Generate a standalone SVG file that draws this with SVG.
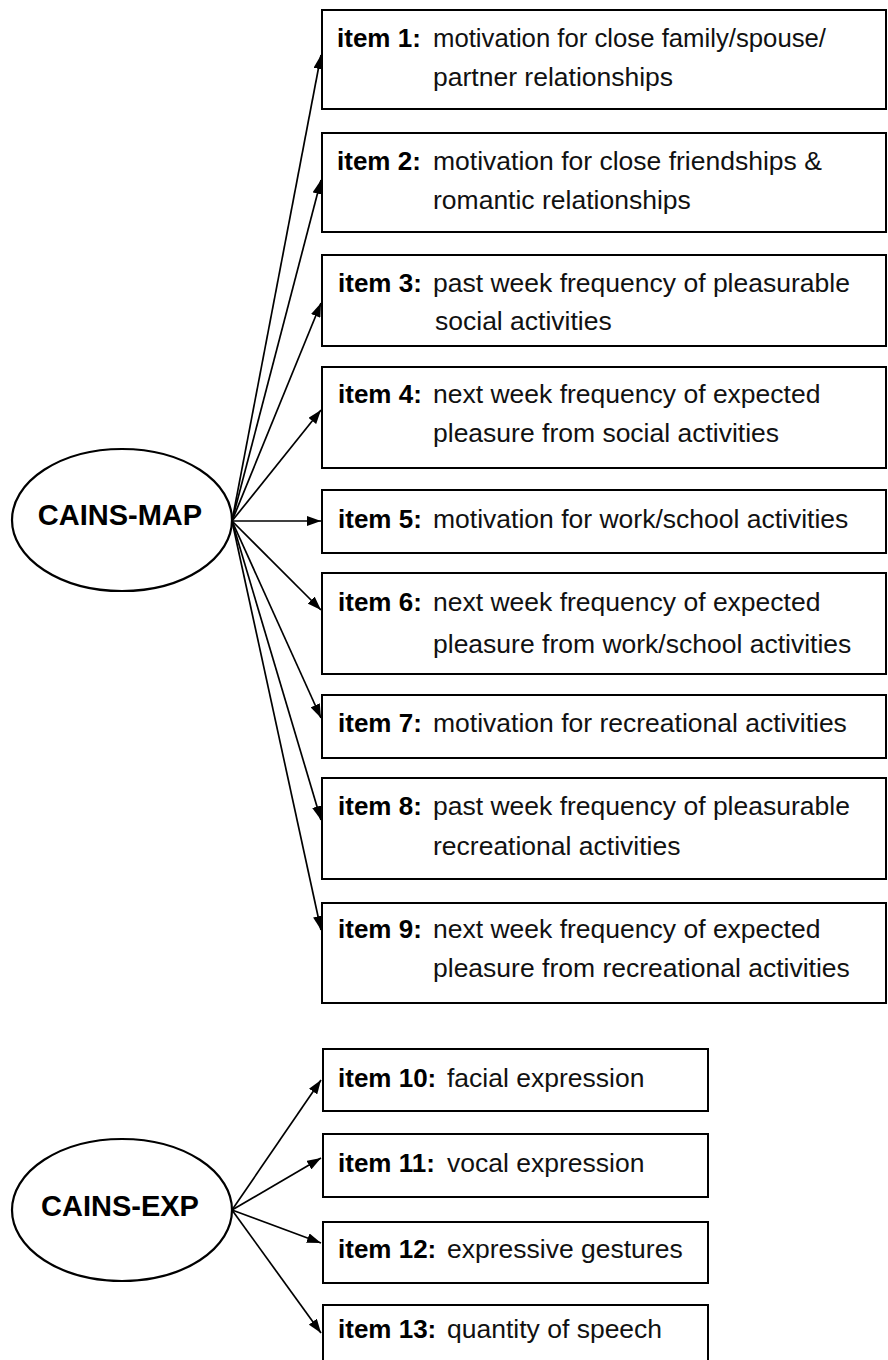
<svg xmlns="http://www.w3.org/2000/svg" width="888" height="1360" viewBox="0 0 888 1360">
<style>
.box{fill:#fff;stroke:#000;stroke-width:2}
.ell{fill:#fff;stroke:#000;stroke-width:2.2}
.lab{font-family:"Liberation Sans",Arial,sans-serif;font-weight:bold;font-size:26px;fill:#000}
.txt{font-family:"Liberation Sans",Arial,sans-serif;font-size:26.5px;fill:#111}
.big{font-family:"Liberation Sans",Arial,sans-serif;font-weight:bold;font-size:29px;fill:#000;text-anchor:middle}
.con line{stroke:#000;stroke-width:1.7;marker-end:url(#ah)}
</style>
<defs>
<marker id="ah" viewBox="0 0 14 10" refX="14" refY="5" markerWidth="14" markerHeight="10" markerUnits="userSpaceOnUse" orient="auto">
<path d="M0,0 L14,5 L0,10 z" fill="#000"/>
</marker>
</defs>
<rect width="888" height="1360" fill="#fff"/>
<g id="connectors" class="con">
<line x1="232" y1="521" x2="321" y2="55"/>
<line x1="232" y1="521" x2="321" y2="180"/>
<line x1="232" y1="521" x2="321" y2="303"/>
<line x1="232" y1="521" x2="321" y2="410"/>
<line x1="232" y1="521" x2="321" y2="521"/>
<line x1="232" y1="521" x2="321" y2="610"/>
<line x1="232" y1="521" x2="321" y2="718"/>
<line x1="232" y1="521" x2="321" y2="820"/>
<line x1="232" y1="521" x2="321" y2="930"/>
<line x1="232" y1="1210" x2="321" y2="1080"/>
<line x1="232" y1="1210" x2="321" y2="1158"/>
<line x1="232" y1="1210" x2="321" y2="1243"/>
<line x1="232" y1="1210" x2="321" y2="1333"/>
</g>
<g id="cains-map">
<ellipse class="ell" cx="122" cy="520" rx="110" ry="71"/>
<text class="big" x="120" y="525">CAINS-MAP</text>
</g>
<g id="cains-exp">
<ellipse class="ell" cx="122" cy="1210" rx="110" ry="71"/>
<text class="big" x="120" y="1216">CAINS-EXP</text>
</g>
<g id="item1">
<rect class="box" x="322" y="10" width="564" height="99"/>
<text class="lab" x="337" y="47">item 1:</text>
<text class="txt" x="433" y="47" textLength="393" lengthAdjust="spacingAndGlyphs">motivation for close family/spouse/</text>
<text class="txt" x="433" y="86">partner relationships</text>
</g>
<g id="item2">
<rect class="box" x="322" y="133" width="564" height="99"/>
<text class="lab" x="337" y="170">item 2:</text>
<text class="txt" x="433" y="170">motivation for close friendships &amp;</text>
<text class="txt" x="433" y="209">romantic relationships</text>
</g>
<g id="item3">
<rect class="box" x="322" y="255" width="564" height="91"/>
<text class="lab" x="338" y="292">item 3:</text>
<text class="txt" x="433" y="292">past week frequency of pleasurable</text>
<text class="txt" x="435" y="330">social activities</text>
</g>
<g id="item4">
<rect class="box" x="322" y="367" width="564" height="101"/>
<text class="lab" x="338" y="403">item 4:</text>
<text class="txt" x="433" y="403">next week frequency of expected</text>
<text class="txt" x="433" y="442">pleasure from social activities</text>
</g>
<g id="item5">
<rect class="box" x="322" y="490" width="564" height="63"/>
<text class="lab" x="338" y="528">item 5:</text>
<text class="txt" x="433" y="528">motivation for work/school activities</text>
</g>
<g id="item6">
<rect class="box" x="322" y="573" width="564" height="101"/>
<text class="lab" x="338" y="611">item 6:</text>
<text class="txt" x="433" y="611">next week frequency of expected</text>
<text class="txt" x="433" y="653">pleasure from work/school activities</text>
</g>
<g id="item7">
<rect class="box" x="322" y="695" width="564" height="63"/>
<text class="lab" x="338" y="732">item 7:</text>
<text class="txt" x="433" y="732">motivation for recreational activities</text>
</g>
<g id="item8">
<rect class="box" x="322" y="778" width="564" height="101"/>
<text class="lab" x="338" y="815">item 8:</text>
<text class="txt" x="433" y="815">past week frequency of pleasurable</text>
<text class="txt" x="433" y="855">recreational activities</text>
</g>
<g id="item9">
<rect class="box" x="322" y="903" width="564" height="100"/>
<text class="lab" x="338" y="938">item 9:</text>
<text class="txt" x="433" y="938">next week frequency of expected</text>
<text class="txt" x="433" y="977">pleasure from recreational activities</text>
</g>
<g id="item10">
<rect class="box" x="323" y="1049" width="385" height="62"/>
<text class="lab" x="338" y="1087">item 10:</text>
<text class="txt" x="447" y="1087">facial expression</text>
</g>
<g id="item11">
<rect class="box" x="323" y="1134" width="385" height="63"/>
<text class="lab" x="338" y="1172">item 11:</text>
<text class="txt" x="447" y="1172">vocal expression</text>
</g>
<g id="item12">
<rect class="box" x="323" y="1222" width="385" height="61"/>
<text class="lab" x="338" y="1258">item 12:</text>
<text class="txt" x="447" y="1258">expressive gestures</text>
</g>
<g id="item13">
<rect class="box" x="323" y="1305" width="385" height="60"/>
<text class="lab" x="338" y="1338">item 13:</text>
<text class="txt" x="447" y="1338">quantity of speech</text>
</g>
</svg>
